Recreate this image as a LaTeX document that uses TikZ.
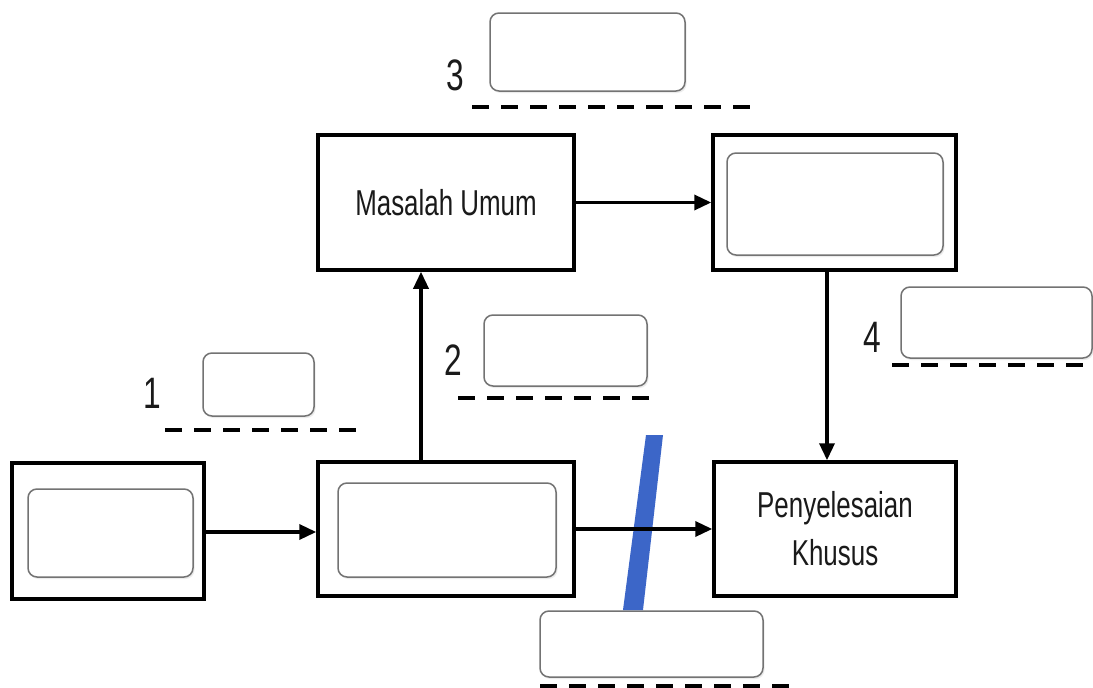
\documentclass[tikz,border=0pt]{standalone}
\usepackage{fontspec}
\setmainfont{Liberation Sans}[FakeStretch=0.72]
\usetikzlibrary{arrows.meta,shadows}
\definecolor{barblue}{HTML}{3C66C8}
\definecolor{txt}{HTML}{1A1A1A}
\tikzset{
  outerbox/.style={draw=black, line width=3.5pt, fill=white, inner sep=0pt, align=center,
    font=\fontsize{36}{48}\selectfont, text=txt},
  innerbox/.style={draw=black!55, line width=1.5pt, rounded corners=9pt, fill=white, inner sep=0pt,
    drop shadow={opacity=0.15, shadow xshift=1.5pt, shadow yshift=-2pt}},
  numlabel/.style={font=\fontsize{44}{44}\selectfont, text=txt, inner sep=0pt},
  conn/.style={line width=3.5pt, -{Triangle[length=17pt,width=15pt]}},
  dashline/.style={line width=4pt, dash pattern=on 17pt off 12pt}
}
\begin{document}
\begin{tikzpicture}[x=1pt,y=-1pt]
\useasboundingbox[fill=white] (0,0) rectangle (1093,688);
% main boxes
\node[outerbox, minimum width=256pt, minimum height=135pt] (mu) at (446,202.5) {Masalah Umum};
\node[outerbox, minimum width=243pt, minimum height=135pt] (tr) at (834.5,202.5) {};
\node[innerbox, minimum width=216pt, minimum height=102pt] (tri) at (835,204) {};
\node[outerbox, minimum width=192pt, minimum height=136pt] (lf) at (108,531) {};
\node[innerbox, minimum width=165pt, minimum height=88pt] (lfi) at (110.5,533) {};
\node[outerbox, minimum width=256pt, minimum height=134pt] (md) at (446,529) {};
\node[innerbox, minimum width=218pt, minimum height=94pt] (mdi) at (447,530) {};
\node[outerbox, minimum width=242pt, minimum height=134pt] (ps) at (835,529) {Penyelesaian\\[0pt]Khusus};
% small label boxes
\node[innerbox, minimum width=111pt, minimum height=63pt] (b1) at (258.5,384.5) {};
\node[innerbox, minimum width=163pt, minimum height=71pt] (b2) at (565.5,350.5) {};
\node[innerbox, minimum width=195pt, minimum height=78pt] (b3) at (587.5,52) {};
\node[innerbox, minimum width=191pt, minimum height=71pt] (b4) at (996.5,322.5) {};
\node[innerbox, minimum width=223pt, minimum height=66pt] (b5) at (651.5,644) {};
% numbers
\node[numlabel] (n1) at (152,393) {1};
\node[numlabel] (n2) at (453,360) {2};
\node[numlabel] (n3) at (455,75) {3};
\node[numlabel] (n4) at (872,337) {4};
% dashed lines
\draw[dashline] (165,430) -- (357,430);
\draw[dashline] (458,398) -- (652,398);
\draw[dashline] (472,107) -- (750,107);
\draw[dashline] (892,365) -- (1093,365);
\draw[dashline] (540,686) -- (790,686);
% blue bar
\fill[barblue] (646,435) -- (663,435) -- (643,610) -- (623,610) -- cycle;
% connectors
\draw[conn] (lf.east |- 0,532) -- (md.west |- 0,532);
\draw[conn] (md.east) -- (ps.west);
\draw[conn] ([xshift=-25pt]md.north) -- ([xshift=-25pt]mu.south);
\draw[conn] (mu.east) -- (tr.west);
\draw[conn] ([xshift=-7.5pt]tr.south) -- ([xshift=-8pt]ps.north);
\end{tikzpicture}
\end{document}
